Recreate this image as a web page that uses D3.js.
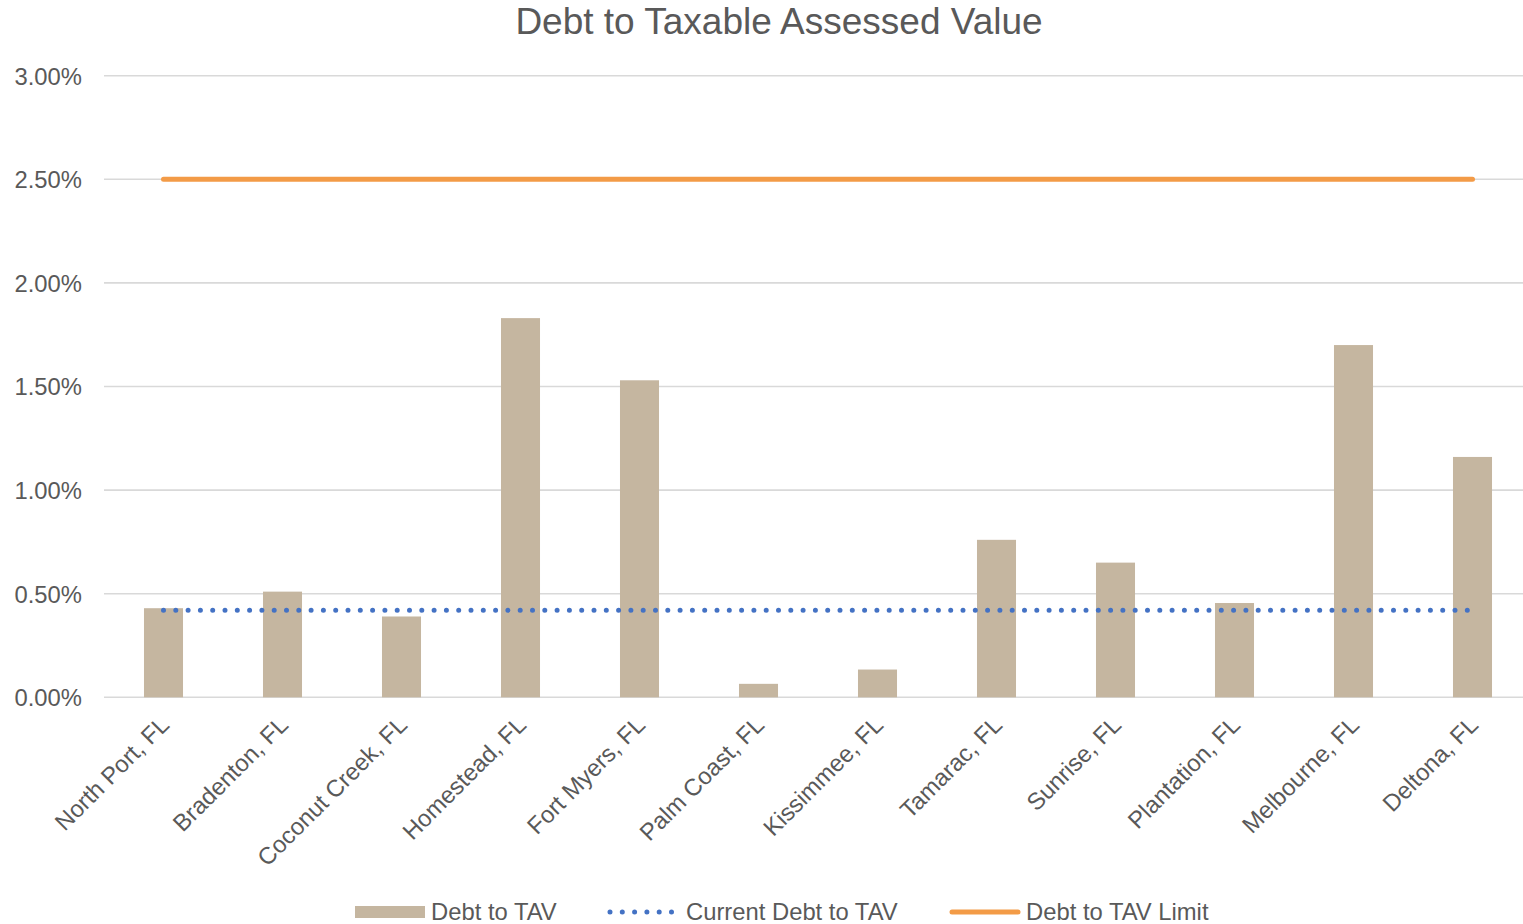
<!DOCTYPE html>
<html>
<head>
<meta charset="utf-8">
<script src="https://cdn.jsdelivr.net/npm/d3@7"></script>
<style>
  html, body { margin: 0; padding: 0; background: #fff; }
  svg { display: block; font-family: "Liberation Sans", Arial, sans-serif; }
</style>
</head>
<body>
<svg id="chart" width="1523" height="924"></svg>
<script>
// Cities compared
const categories = [
  "North Port, FL", "Bradenton, FL", "Coconut Creek, FL", "Homestead, FL",
  "Fort Myers, FL", "Palm Coast, FL", "Kissimmee, FL", "Tamarac, FL",
  "Sunrise, FL", "Plantation, FL", "Melbourne, FL", "Deltona, FL"
];
// Debt to taxable assessed value (%)
const debtToTAV = [0.43, 0.51, 0.39, 1.83, 1.53, 0.065, 0.134, 0.76, 0.65, 0.455, 1.70, 1.16];
// Current city's ratio, drawn across all categories (%)
const currentDebtToTAV = [0.42, 0.42, 0.42, 0.42, 0.42, 0.42, 0.42, 0.42, 0.42, 0.42, 0.42, 0.42];
// Policy limit (%)
const debtToTAVLimit = [2.5, 2.5, 2.5, 2.5, 2.5, 2.5, 2.5, 2.5, 2.5, 2.5, 2.5, 2.5];
const yTicks = [0, 0.5, 1, 1.5, 2, 2.5, 3];
const seriesNames = ["Debt to TAV", "Current Debt to TAV", "Debt to TAV Limit"];

const svg = d3.select("#chart");
const textColor = "#595959";
const barColor = "#C5B6A0";
const dotColor = "#4472C4";
const limitColor = "#F39B47";
const gridColor = "#D9D9D9";
const labelSize = 23.8;

const x = d3.scaleBand().domain(categories).range([104, 1532]).paddingInner(0.672).paddingOuter(0.336);
const y = d3.scaleLinear().domain([0, 3]).range([697.3, 75.7]);

// Title
svg.append("text")
  .attr("x", 779).attr("y", 34)
  .attr("text-anchor", "middle")
  .attr("font-size", 37)
  .attr("fill", textColor)
  .text("Debt to Taxable Assessed Value");

// Gridlines
svg.append("g").selectAll("line").data(yTicks).join("line")
  .attr("x1", 104).attr("x2", 1532)
  .attr("y1", d => y(d)).attr("y2", d => y(d))
  .attr("stroke", gridColor).attr("stroke-width", 1.6);

// Y axis labels
const yAxis = d3.axisLeft(y).tickValues(yTicks).tickSize(0).tickPadding(0)
  .tickFormat(d => d3.format(".2f")(d) + "%");
const ya = svg.append("g").attr("transform", "translate(82,0)").call(yAxis);
ya.select(".domain").remove();
ya.selectAll("text").attr("font-size", labelSize).attr("fill", textColor)
  .attr("font-family", "Liberation Sans, Arial, sans-serif").attr("dy", "0.35em");

// Bars
svg.append("g").selectAll("rect").data(debtToTAV).join("rect")
  .attr("x", (d, i) => x(categories[i]))
  .attr("width", x.bandwidth())
  .attr("y", d => y(d))
  .attr("height", d => y(0) - y(d))
  .attr("fill", barColor);

const cx = c => x(c) + x.bandwidth() / 2;

// Limit line
const line = d3.line().x((d, i) => cx(categories[i])).y(d => y(d));
svg.append("path").datum(debtToTAVLimit)
  .attr("d", line)
  .attr("fill", "none").attr("stroke", limitColor)
  .attr("stroke-width", 5).attr("stroke-linecap", "round");

// Current ratio dotted line
svg.append("path").datum(currentDebtToTAV)
  .attr("d", line)
  .attr("fill", "none").attr("stroke", dotColor)
  .attr("stroke-width", 5).attr("stroke-linecap", "round")
  .attr("stroke-dasharray", "0 12.3");

// Category labels
const xAxis = d3.axisBottom(x).tickSize(0).tickPadding(0);
const xa = svg.append("g").attr("transform", "translate(0,697.3)").call(xAxis);
xa.select(".domain").remove();
xa.selectAll("text")
  .attr("font-size", labelSize).attr("fill", textColor)
  .attr("font-family", "Liberation Sans, Arial, sans-serif")
  .attr("text-anchor", "end")
  .attr("dy", null).attr("y", null)
  .attr("transform", "translate(7,29) rotate(-45)");

// Legend
const lg = svg.append("g");
const ly = 912;
lg.append("rect").attr("x", 355).attr("y", ly - 6).attr("width", 70).attr("height", 12).attr("fill", barColor);
lg.append("text").attr("x", 431).attr("y", ly).attr("dy", "0.35em").attr("font-size", labelSize).attr("fill", textColor).text(seriesNames[0]);
lg.append("line").attr("x1", 610).attr("x2", 675).attr("y1", ly).attr("y2", ly)
  .attr("stroke", dotColor).attr("stroke-width", 5).attr("stroke-linecap", "round").attr("stroke-dasharray", "0 12.3");
lg.append("text").attr("x", 686).attr("y", ly).attr("dy", "0.35em").attr("font-size", labelSize).attr("fill", textColor).text(seriesNames[1]);
lg.append("line").attr("x1", 952).attr("x2", 1018).attr("y1", ly).attr("y2", ly)
  .attr("stroke", limitColor).attr("stroke-width", 5).attr("stroke-linecap", "round");
lg.append("text").attr("x", 1026).attr("y", ly).attr("dy", "0.35em").attr("font-size", labelSize).attr("fill", textColor).text(seriesNames[2]);
</script>
</body>
</html>
